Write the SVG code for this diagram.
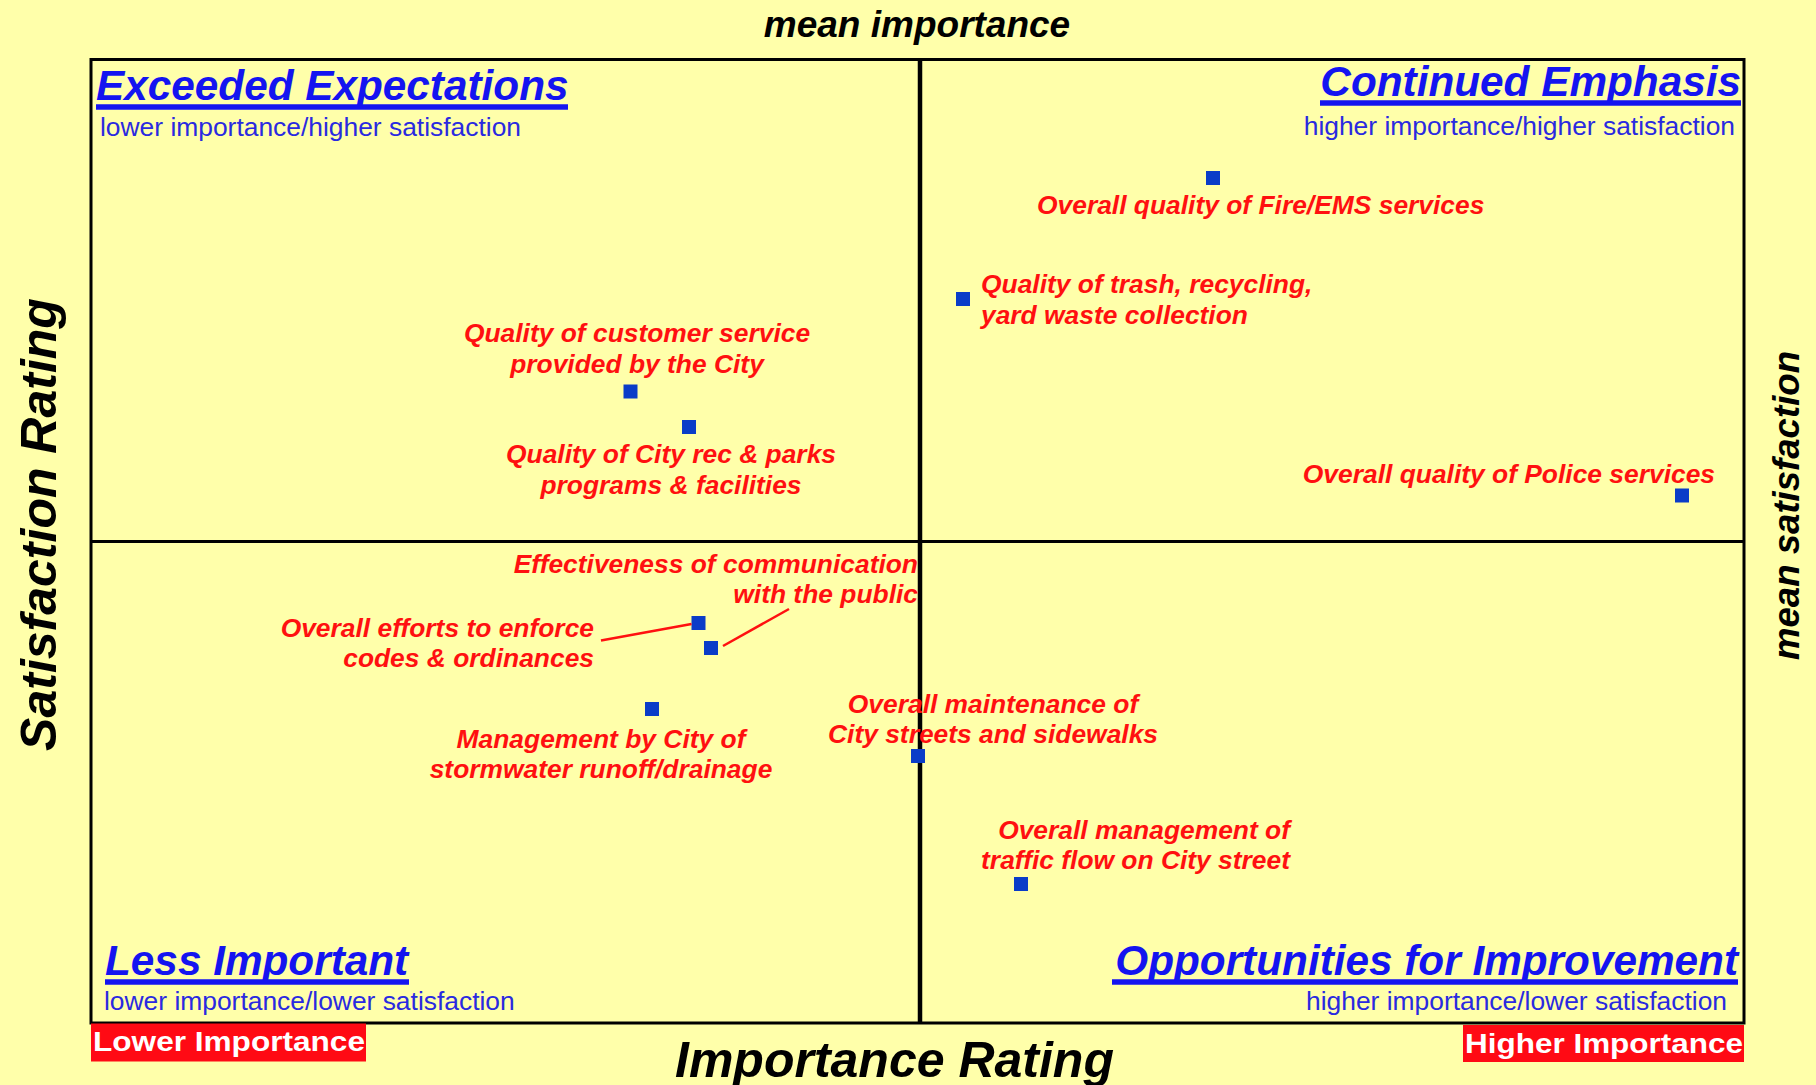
<svg xmlns="http://www.w3.org/2000/svg" width="1816" height="1085" viewBox="0 0 1816 1085">
<style>
text{font-family:"Liberation Sans",Arial,sans-serif}
.title{font-size:42.3px;font-weight:bold;font-style:italic;fill:#1414F0}
.uline{stroke:#1414F0;stroke-width:5.5}
.sub{font-size:26.4px;fill:#2A2AE0}
.lbl{font-size:26.4px;font-weight:bold;font-style:italic;fill:#FF1010}
.pt{fill:#0A3CC8}
.axis{font-weight:bold;font-style:italic;fill:#000}
.tag{fill:#FF0A14}
.tagt{font-size:28px;font-weight:bold;fill:#fff}
.lead{stroke:#FF1010;stroke-width:2.5;fill:none}
</style>
<rect width="1816" height="1085" fill="#FFFFAA"/>
<g id="frame">
<rect x="91" y="59.5" width="1653" height="963.5" fill="none" stroke="#000" stroke-width="3"/>
<line x1="920" y1="59.5" x2="920" y2="1023" stroke="#000" stroke-width="4.5"/>
<line x1="91" y1="541.5" x2="1744" y2="541.5" stroke="#000" stroke-width="3"/>
</g>
<g id="axis-top"><text class="axis" x="917" y="37" font-size="37" text-anchor="middle">mean importance</text></g>
<g id="axis-right"><text class="axis" font-size="36.6" text-anchor="middle" transform="translate(1799,505.5) rotate(-90)">mean satisfaction</text></g>
<g id="axis-left"><text class="axis" font-size="50" text-anchor="middle" transform="translate(56,524.5) rotate(-90)">Satisfaction Rating</text></g>
<g id="axis-bottom"><text class="axis" x="675" y="1077" font-size="50">Importance Rating</text></g>
<g id="tag-lower"><rect class="tag" x="91" y="1023.5" width="275" height="38"/><text class="tagt" x="93" y="1051" textLength="272" lengthAdjust="spacingAndGlyphs">Lower Importance</text></g>
<g id="tag-higher"><rect class="tag" x="1463" y="1025" width="281" height="37"/><text class="tagt" x="1465" y="1053" textLength="278" lengthAdjust="spacingAndGlyphs">Higher Importance</text></g>
<g id="q-exceeded"><text class="title" x="96" y="100">Exceeded Expectations</text><line class="uline" x1="96" y1="107" x2="568" y2="107"/><text class="sub" x="100" y="136">lower importance/higher satisfaction</text></g>
<g id="q-continued"><text class="title" x="1741" y="96" text-anchor="end">Continued Emphasis</text><line class="uline" x1="1320" y1="103" x2="1741" y2="103"/><text class="sub" x="1735" y="135" text-anchor="end">higher importance/higher satisfaction</text></g>
<g id="q-less"><text class="title" x="105" y="975">Less Important</text><line class="uline" x1="105" y1="982" x2="409" y2="982"/><text class="sub" x="104" y="1010">lower importance/lower satisfaction</text></g>
<g id="q-opportunities"><text class="title" x="1738" y="975" text-anchor="end">Opportunities for Improvement</text><line class="uline" x1="1112" y1="982" x2="1738" y2="982"/><text class="sub" x="1727" y="1010" text-anchor="end">higher importance/lower satisfaction</text></g>
<g id="p-fire"><rect class="pt" x="1206" y="171" width="14" height="14"/><text class="lbl" x="1037" y="214">Overall quality of Fire/EMS services</text></g>
<g id="p-trash"><rect class="pt" x="956" y="292" width="14" height="14"/><text class="lbl" x="981" y="293">Quality of trash, recycling,</text><text class="lbl" x="981" y="324">yard waste collection</text></g>
<g id="p-customer"><rect class="pt" x="623.5" y="384.5" width="14" height="14"/><text class="lbl" x="637" y="342" text-anchor="middle">Quality of customer service</text><text class="lbl" x="637" y="373" text-anchor="middle">provided by the City</text></g>
<g id="p-parks"><rect class="pt" x="682" y="420" width="14" height="14"/><text class="lbl" x="671" y="463" text-anchor="middle">Quality of City rec &amp; parks</text><text class="lbl" x="671" y="494" text-anchor="middle">programs &amp; facilities</text></g>
<g id="p-police"><rect class="pt" x="1675" y="488.5" width="14" height="14"/><text class="lbl" x="1715" y="483" text-anchor="end">Overall quality of Police services</text></g>
<g id="p-communication"><rect class="pt" x="704" y="641" width="14" height="14"/><text class="lbl" x="918" y="573" text-anchor="end">Effectiveness of communication</text><text class="lbl" x="918" y="603" text-anchor="end">with the public</text></g>
<g id="p-enforce"><rect class="pt" x="691.5" y="616" width="14" height="14"/><text class="lbl" x="594" y="637" text-anchor="end">Overall efforts to enforce</text><text class="lbl" x="594" y="667" text-anchor="end">codes &amp; ordinances</text></g>
<g id="p-stormwater"><rect class="pt" x="645" y="702" width="14" height="14"/><text class="lbl" x="601" y="748" text-anchor="middle">Management by City of</text><text class="lbl" x="601" y="778" text-anchor="middle">stormwater runoff/drainage</text></g>
<g id="p-streets"><rect class="pt" x="911" y="749" width="14" height="14"/><text class="lbl" x="993" y="713" text-anchor="middle">Overall maintenance of</text><text class="lbl" x="993" y="743" text-anchor="middle">City streets and sidewalks</text></g>
<g id="p-traffic"><rect class="pt" x="1014" y="877" width="14" height="14"/><text class="lbl" x="1290" y="839" text-anchor="end">Overall management of</text><text class="lbl" x="1290" y="869" text-anchor="end">traffic flow on City street</text></g>
<g id="connectors">
<line class="lead" x1="601" y1="640.5" x2="691.5" y2="624"/>
<line class="lead" x1="723" y1="646" x2="789" y2="609"/>
</g>
</svg>
